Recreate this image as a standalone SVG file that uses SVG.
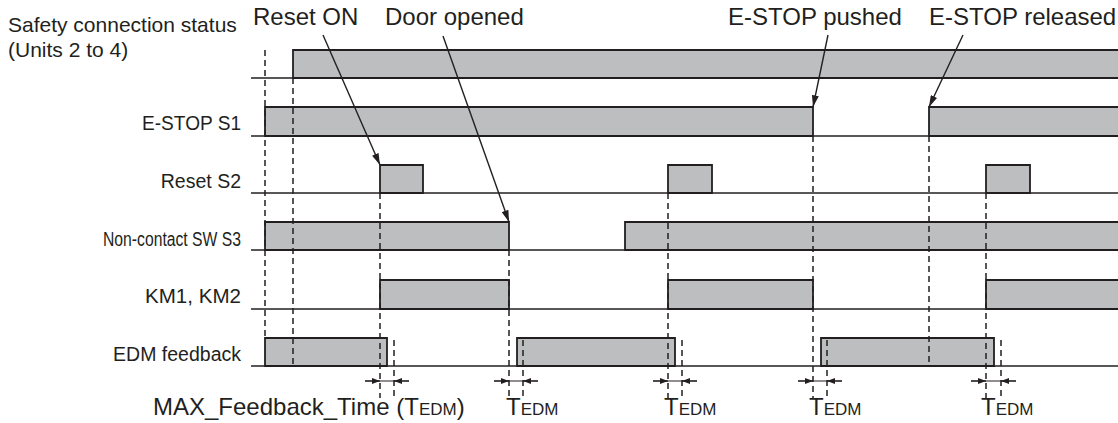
<svg xmlns="http://www.w3.org/2000/svg" width="1118" height="423" viewBox="0 0 1118 423">
<style>
text{font-family:"Liberation Sans",Arial,sans-serif;fill:#231f20}
.hd{font-size:24px}
.lb{font-size:19.5px;text-anchor:end}
.sig{fill:#bcbec0;stroke:#231f20;stroke-width:1.8;stroke-linejoin:miter}
.base{stroke:#231f20;stroke-width:1.5;fill:none}
.dash{stroke:#231f20;stroke-width:1.5;stroke-dasharray:6 4;fill:none}
.lead{stroke:#231f20;stroke-width:1.4;fill:none}
.dim{stroke:#231f20;stroke-width:1.2;fill:none}
.bt{font-size:24px}
.sm{font-size:17px}
</style>
<defs>
<marker id="ah" viewBox="0 0 10 6" refX="10" refY="3" markerWidth="12" markerHeight="7" orient="auto" markerUnits="userSpaceOnUse"><path d="M0,0 L10,3 L0,6 z" fill="#231f20"/></marker>
<marker id="dh" viewBox="0 0 8 6" refX="8" refY="3" markerWidth="8" markerHeight="6" orient="auto" markerUnits="userSpaceOnUse"><path d="M0,0 L8,3 L0,6 z" fill="#231f20"/></marker>
</defs>
<rect width="1118" height="423" fill="#ffffff"/>

<g id="row-safety">
<text x="8" y="32" style="font-size:21px">Safety connection status</text>
<text x="8" y="57" style="font-size:21px">(Units 2 to 4)</text>
<path class="sig" d="M293,78 V50 H1119 V78 Z"/>
<line class="base" x1="251" y1="78" x2="1118" y2="78"/>
</g>

<g id="row-estop">
<text class="lb" x="241" y="130" textLength="99" lengthAdjust="spacingAndGlyphs">E-STOP S1</text>
<path class="sig" d="M265,136 V107 H813 V136 Z"/>
<path class="sig" d="M929,136 V107 H1119 V136 Z"/>
<line class="base" x1="251" y1="136" x2="1118" y2="136"/>
</g>

<g id="row-reset">
<text class="lb" x="241" y="188">Reset S2</text>
<path class="sig" d="M380,193 V165 H423 V193 Z"/>
<path class="sig" d="M668,193 V165 H712 V193 Z"/>
<path class="sig" d="M986,193 V165 H1030 V193 Z"/>
<line class="base" x1="251" y1="193" x2="1118" y2="193"/>
</g>

<g id="row-noncontact">
<text class="lb" x="241" y="246" textLength="138" lengthAdjust="spacingAndGlyphs">Non-contact SW S3</text>
<path class="sig" d="M265,250 V222 H509 V250 Z"/>
<path class="sig" d="M625,250 V222 H1119 V250 Z"/>
<line class="base" x1="251" y1="250" x2="1118" y2="250"/>
</g>

<g id="row-km">
<text class="lb" x="241" y="303" textLength="96" lengthAdjust="spacingAndGlyphs">KM1, KM2</text>
<path class="sig" d="M380,309 V280 H509 V309 Z"/>
<path class="sig" d="M668,309 V280 H813 V309 Z"/>
<path class="sig" d="M986,309 V280 H1119 V309 Z"/>
<line class="base" x1="251" y1="309" x2="1118" y2="309"/>
</g>

<g id="row-edm">
<text class="lb" x="241" y="361">EDM feedback</text>
<path class="sig" d="M265,366 V338 H387 V366 Z"/>
<path class="sig" d="M517,366 V338 H675 V366 Z"/>
<path class="sig" d="M821,366 V338 H994 V366 Z"/>
<line class="base" x1="251" y1="366" x2="1118" y2="366"/>
</g>

<g id="header-reset-on"><text class="hd" x="253" y="25">Reset ON</text></g>
<g id="header-door-opened"><text class="hd" x="385" y="25">Door opened</text></g>
<g id="header-estop-pushed"><text class="hd" x="728" y="25">E-STOP pushed</text></g>
<g id="header-estop-released"><text class="hd" x="929" y="25">E-STOP released</text></g>

<g id="tedm-labels">
<text class="bt" x="153" y="415">MAX_Feedback_Time (T<tspan class="sm">EDM</tspan>)</text>
<text class="bt" x="506" y="415">T<tspan class="sm">EDM</tspan></text>
<text class="bt" x="664" y="415">T<tspan class="sm">EDM</tspan></text>
<text class="bt" x="809" y="415">T<tspan class="sm">EDM</tspan></text>
<text class="bt" x="981" y="415">T<tspan class="sm">EDM</tspan></text>
</g>

<g id="connectors">
<line class="dash" x1="265" y1="50" x2="265" y2="338"/>
<line class="dash" x1="293" y1="78" x2="293" y2="366"/>
<line class="dash" x1="380" y1="193" x2="380" y2="398"/>
<line class="dash" x1="394" y1="340" x2="394" y2="398"/>
<line class="dash" x1="509" y1="250" x2="509" y2="398"/>
<line class="dash" x1="523" y1="340" x2="523" y2="398"/>
<line class="dash" x1="668" y1="193" x2="668" y2="398"/>
<line class="dash" x1="682" y1="340" x2="682" y2="398"/>
<line class="dash" x1="813" y1="136" x2="813" y2="398"/>
<line class="dash" x1="827" y1="340" x2="827" y2="398"/>
<line class="dash" x1="929" y1="136" x2="929" y2="366"/>
<line class="dash" x1="986" y1="193" x2="986" y2="398"/>
<line class="dash" x1="1001" y1="340" x2="1001" y2="398"/>

<line class="lead" x1="323" y1="35" x2="380" y2="165" marker-end="url(#ah)"/>
<line class="lead" x1="443" y1="36" x2="509" y2="222" marker-end="url(#ah)"/>
<line class="lead" x1="828" y1="35" x2="813" y2="107" marker-end="url(#ah)"/>
<line class="lead" x1="963" y1="35" x2="929" y2="107" marker-end="url(#ah)"/>

<g id="dim1">
<line class="dim" x1="365" y1="381" x2="409" y2="381"/>
<line class="dim" x1="365" y1="381" x2="380" y2="381" marker-end="url(#dh)"/>
<line class="dim" x1="409" y1="381" x2="394" y2="381" marker-end="url(#dh)"/>
</g>
<g id="dim2">
<line class="dim" x1="494" y1="381" x2="538" y2="381"/>
<line class="dim" x1="494" y1="381" x2="509" y2="381" marker-end="url(#dh)"/>
<line class="dim" x1="538" y1="381" x2="523" y2="381" marker-end="url(#dh)"/>
</g>
<g id="dim3">
<line class="dim" x1="653" y1="381" x2="697" y2="381"/>
<line class="dim" x1="653" y1="381" x2="668" y2="381" marker-end="url(#dh)"/>
<line class="dim" x1="697" y1="381" x2="682" y2="381" marker-end="url(#dh)"/>
</g>
<g id="dim4">
<line class="dim" x1="798" y1="381" x2="842" y2="381"/>
<line class="dim" x1="798" y1="381" x2="813" y2="381" marker-end="url(#dh)"/>
<line class="dim" x1="842" y1="381" x2="827" y2="381" marker-end="url(#dh)"/>
</g>
<g id="dim5">
<line class="dim" x1="971" y1="381" x2="1016" y2="381"/>
<line class="dim" x1="971" y1="381" x2="986" y2="381" marker-end="url(#dh)"/>
<line class="dim" x1="1016" y1="381" x2="1001" y2="381" marker-end="url(#dh)"/>
</g>
</g>
</svg>
